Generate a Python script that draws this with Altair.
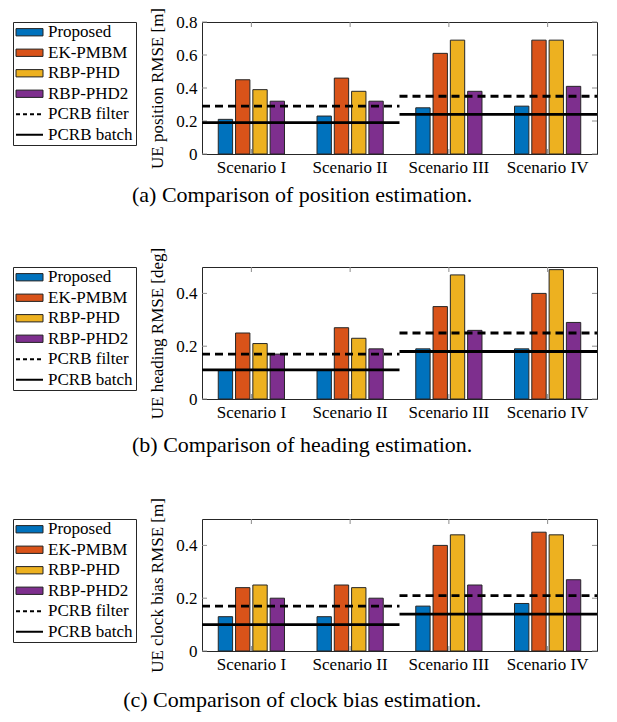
import altair as alt
import pandas as pd

scenarios = ["Scenario I", "Scenario II", "Scenario III", "Scenario IV"]
methods = ["Proposed", "EK-PMBM", "RBP-PHD", "RBP-PHD2"]
colors = ["#0072BD", "#D95319", "#EDB120", "#7E2F8E"]
legend_names = methods + ["PCRB filter", "PCRB batch"]
legend_kinds = ["bar", "bar", "bar", "bar", "filter", "batch"]

# segment extents of the PCRB lines (scenario index units)
seg_start = [0, 2]
seg_end = [2, 4]

# (a) position
pos_proposed = [0.21, 0.23, 0.28, 0.29]
pos_ekpmbm = [0.45, 0.46, 0.61, 0.69]
pos_rbpphd = [0.39, 0.38, 0.69, 0.69]
pos_rbpphd2 = [0.32, 0.32, 0.38, 0.41]
pos_filter = [0.29, 0.35]
pos_batch = [0.19, 0.24]
pos_ticks = [0, 0.2, 0.4, 0.6, 0.8]

# (b) heading
head_proposed = [0.11, 0.11, 0.19, 0.19]
head_ekpmbm = [0.25, 0.27, 0.35, 0.40]
head_rbpphd = [0.21, 0.23, 0.47, 0.49]
head_rbpphd2 = [0.17, 0.19, 0.26, 0.29]
head_filter = [0.17, 0.25]
head_batch = [0.11, 0.18]
head_ticks = [0, 0.2, 0.4]

# (c) clock bias
clk_proposed = [0.13, 0.13, 0.17, 0.18]
clk_ekpmbm = [0.24, 0.25, 0.40, 0.45]
clk_rbpphd = [0.25, 0.24, 0.44, 0.44]
clk_rbpphd2 = [0.20, 0.20, 0.25, 0.27]
clk_filter = [0.17, 0.21]
clk_batch = [0.10, 0.14]
clk_ticks = [0, 0.2, 0.4]

FONT = "Liberation Serif"
W, H = 395, 132
TICK_COLOR = "#8c8c8c"


def legend_chart():
    df = pd.DataFrame({"name": legend_names, "kind": legend_kinds})
    yenc = alt.Y("name:N", sort=legend_names, axis=None,
                 scale=alt.Scale(domain=legend_names, paddingInner=0, paddingOuter=0.23))
    base = alt.Chart(df).encode(y=yenc)
    sym_bar = base.transform_filter("datum.kind == 'bar'").mark_point(
        shape="M-1,-0.27H1V0.27H-1Z", filled=True, size=729, stroke="#222222",
        strokeWidth=1, opacity=1
    ).encode(
        x=alt.value(16.5),
        fill=alt.Fill("name:N", scale=alt.Scale(domain=methods, range=colors), legend=None),
    )
    sym_line = base.transform_filter("datum.kind != 'bar'").mark_point(
        shape="M-1,0H1", size=729, filled=False, color="black", strokeWidth=2, opacity=1
    ).encode(
        x=alt.value(16.5),
        strokeDash=alt.StrokeDash("kind:N", scale=alt.Scale(domain=["filter", "batch"],
                                                              range=[[4, 3], [1, 0]]), legend=None),
    )
    text = base.mark_text(align="left", baseline="middle", font=FONT, fontSize=17,
                          color="black").encode(x=alt.value(35), text="name:N")
    return alt.layer(sym_bar, sym_line, text).properties(width=123, height=123)


def panel(series, filt, batch, ymax, yticks, ytitle, caption, cap_offset):
    rows = []
    for m, vals in zip(methods, series):
        for s, v in zip(scenarios, vals):
            rows.append({"scenario": s, "method": m, "value": v})
    bars_df = pd.DataFrame(rows)
    lines_df = pd.DataFrame({"start": seg_start, "end": seg_end, "filter": filt, "batch": batch})
    ticks_df = pd.DataFrame({"tick": yticks})
    scen_df = pd.DataFrame({"scenario": scenarios})

    yscale = alt.Scale(domain=[0, ymax], nice=False, zero=True)
    yaxis = alt.Axis(values=yticks, title=ytitle, labelPadding=5, titlePadding=9,
                     labelExpr="datum.value == 0 ? '0' : format(datum.value, '.1f')")
    xscale = alt.Scale(domain=scenarios, paddingInner=0, paddingOuter=0)

    bars = alt.Chart(bars_df).mark_bar(stroke="#262626", strokeWidth=1).encode(
        x=alt.X("scenario:N", sort=scenarios, scale=xscale,
                axis=alt.Axis(title=None, labelAngle=0, labelPadding=5)),
        xOffset=alt.XOffset("method:N", sort=methods,
                            scale=alt.Scale(domain=methods, paddingInner=0.17, paddingOuter=0.94)),
        y=alt.Y("value:Q", scale=yscale, axis=yaxis, title=ytitle),
        fill=alt.Fill("method:N", scale=alt.Scale(domain=methods, range=colors), legend=None),
    )
    qx = alt.X("start:Q", scale=alt.Scale(domain=[0, 4], nice=False, zero=False), axis=None)
    line_f = alt.Chart(lines_df).mark_rule(color="black", strokeWidth=2.8, strokeDash=[8, 5]).encode(
        x=qx, x2="end:Q", y=alt.Y("filter:Q", scale=yscale, axis=yaxis, title=ytitle))
    line_b = alt.Chart(lines_df).mark_rule(color="black", strokeWidth=2.8).encode(
        x=qx, x2="end:Q", y=alt.Y("batch:Q", scale=yscale, axis=yaxis, title=ytitle))

    tick_y = alt.Y("tick:Q", scale=yscale, axis=yaxis, title=ytitle)
    lt = alt.Chart(ticks_df).mark_rule(color=TICK_COLOR, strokeWidth=1).encode(
        y=tick_y, x=alt.value(0), x2=alt.value(5))
    rt = alt.Chart(ticks_df).mark_rule(color=TICK_COLOR, strokeWidth=1).encode(
        y=tick_y, x=alt.value(W - 5), x2=alt.value(W))
    sx = alt.X("scenario:N", sort=scenarios, scale=xscale, axis=None)
    tt = alt.Chart(scen_df).mark_rule(color=TICK_COLOR, strokeWidth=1).encode(
        x=sx, y=alt.value(0), y2=alt.value(5))
    bt = alt.Chart(scen_df).mark_rule(color=TICK_COLOR, strokeWidth=1).encode(
        x=sx, y=alt.value(H - 5), y2=alt.value(H))

    plot = alt.layer(bars, lt, rt, tt, bt, line_f, line_b).resolve_scale(x="independent").properties(
        width=W, height=H)
    return alt.hconcat(legend_chart(), plot, spacing=66, bounds="flush").properties(
        title=alt.TitleParams(caption, orient="bottom", anchor="middle", fontSize=22, font=FONT,
                              fontWeight="normal", color="black", offset=cap_offset, dx=-3))


pa = panel([pos_proposed, pos_ekpmbm, pos_rbpphd, pos_rbpphd2], pos_filter, pos_batch, 0.8, pos_ticks,
           "UE position RMSE [m]", "(a) Comparison of position estimation.", 9)
pb = panel([head_proposed, head_ekpmbm, head_rbpphd, head_rbpphd2], head_filter, head_batch, 0.5,
           head_ticks, "UE heading RMSE [deg]", "(b) Comparison of heading estimation.", 14)
pc = panel([clk_proposed, clk_ekpmbm, clk_rbpphd, clk_rbpphd2], clk_filter, clk_batch, 0.5, clk_ticks,
           "UE clock bias RMSE [m]", "(c) Comparison of clock bias estimation.", 17)

lower = alt.vconcat(pb, pc, spacing=252, bounds="flush")
chart = alt.vconcat(pa, lower, spacing=245, bounds="flush").properties(
    padding={"left": 3, "top": -2, "right": 5, "bottom": 5}
).configure(font=FONT).configure_view(
    stroke="#262626", strokeWidth=1).configure_axis(
    labelFont=FONT, titleFont=FONT, labelFontSize=17, titleFontSize=17, titleFontWeight="normal",
    labelColor="black", titleColor="black", ticks=False, domain=False, grid=False)

chart.save("out.html", embed_options={"renderer": "svg", "actions": False})
